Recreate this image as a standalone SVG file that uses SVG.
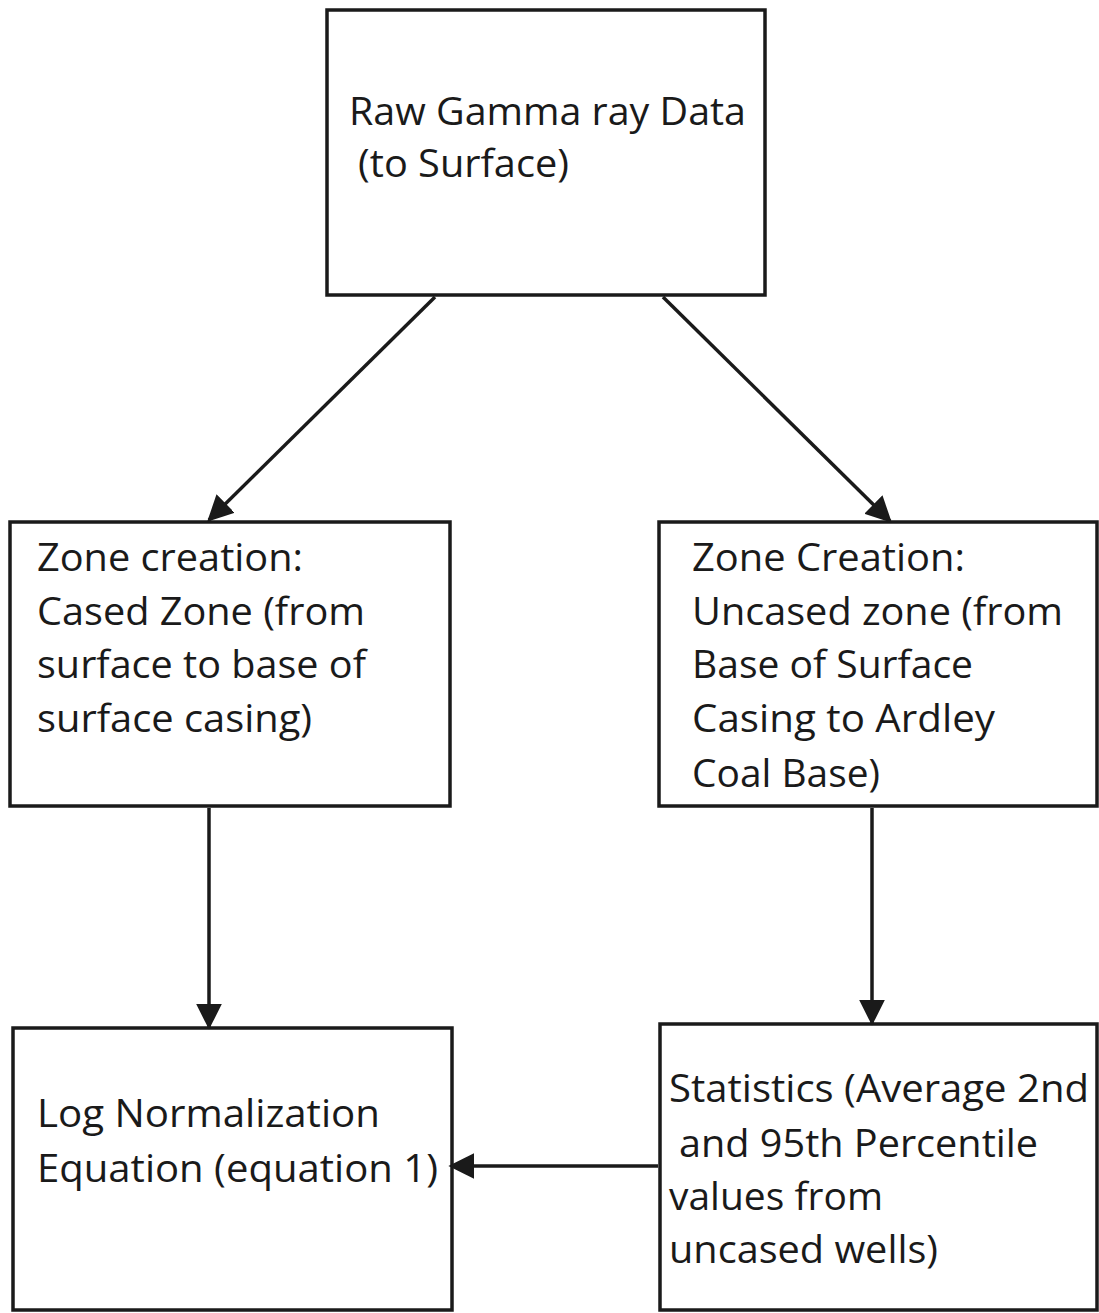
<svg xmlns="http://www.w3.org/2000/svg" width="1099" height="1313" viewBox="0 0 1099 1313">
<style>
.box{fill:#fff;stroke:#1a1a1a;stroke-width:3.5}
.t{font-family:"Open Sans","Noto Sans",sans-serif;font-size:39px;fill:#1a1a1a}
.c{stroke:#1a1a1a;stroke-width:3.5;fill:none}
</style>
<defs>
<marker id="ah" viewBox="0 0 10 10" refX="9" refY="5" markerWidth="26" markerHeight="26" markerUnits="userSpaceOnUse" orient="auto">
<path d="M0,0 L10,5 L0,10 z" fill="#1a1a1a"/>
</marker>
</defs>
<rect width="1099" height="1313" fill="#fff"/>
<g id="n1">
<rect class="box" x="327" y="10" width="438" height="285"/>
<text class="t" x="349" y="125" textLength="397" lengthAdjust="spacingAndGlyphs">Raw Gamma ray Data</text>
<text class="t" x="358" y="177" textLength="211" lengthAdjust="spacingAndGlyphs">(to Surface)</text>
</g>
<g id="n2">
<rect class="box" x="10" y="522" width="440" height="284"/>
<text class="t" x="37" y="571" textLength="266" lengthAdjust="spacingAndGlyphs">Zone creation:</text>
<text class="t" x="37" y="625" textLength="328" lengthAdjust="spacingAndGlyphs">Cased Zone (from</text>
<text class="t" x="37" y="678" textLength="329" lengthAdjust="spacingAndGlyphs">surface to base of</text>
<text class="t" x="37" y="732" textLength="275" lengthAdjust="spacingAndGlyphs">surface casing)</text>
</g>
<g id="n3">
<rect class="box" x="659" y="522" width="438" height="284"/>
<text class="t" x="692" y="571" textLength="273" lengthAdjust="spacingAndGlyphs">Zone Creation:</text>
<text class="t" x="692" y="625" textLength="371" lengthAdjust="spacingAndGlyphs">Uncased zone (from</text>
<text class="t" x="692" y="678" textLength="281" lengthAdjust="spacingAndGlyphs">Base of Surface</text>
<text class="t" x="692" y="732" textLength="303" lengthAdjust="spacingAndGlyphs">Casing to Ardley</text>
<text class="t" x="692" y="787" textLength="188" lengthAdjust="spacingAndGlyphs">Coal Base)</text>
</g>
<g id="n4">
<rect class="box" x="13" y="1028" width="439" height="282"/>
<text class="t" x="37" y="1127" textLength="343" lengthAdjust="spacingAndGlyphs">Log Normalization</text>
<text class="t" x="37" y="1182" textLength="401" lengthAdjust="spacingAndGlyphs">Equation (equation 1)</text>
</g>
<g id="n5">
<rect class="box" x="660" y="1024" width="437" height="286"/>
<text class="t" x="669" y="1102" textLength="420" lengthAdjust="spacingAndGlyphs">Statistics (Average 2nd</text>
<text class="t" x="679" y="1157" textLength="359" lengthAdjust="spacingAndGlyphs">and 95th Percentile</text>
<text class="t" x="669" y="1210" textLength="214" lengthAdjust="spacingAndGlyphs">values from</text>
<text class="t" x="669" y="1263" textLength="269" lengthAdjust="spacingAndGlyphs">uncased wells)</text>
</g>
<g id="connectors">
<line class="c" x1="435" y1="297" x2="209" y2="520" marker-end="url(#ah)"/>
<line class="c" x1="663" y1="297" x2="890" y2="521" marker-end="url(#ah)"/>
<line class="c" x1="209" y1="808" x2="209" y2="1027" marker-end="url(#ah)"/>
<line class="c" x1="872" y1="808" x2="872" y2="1023" marker-end="url(#ah)"/>
<line class="c" x1="658" y1="1166" x2="451" y2="1166" marker-end="url(#ah)"/>
</g>
</svg>
